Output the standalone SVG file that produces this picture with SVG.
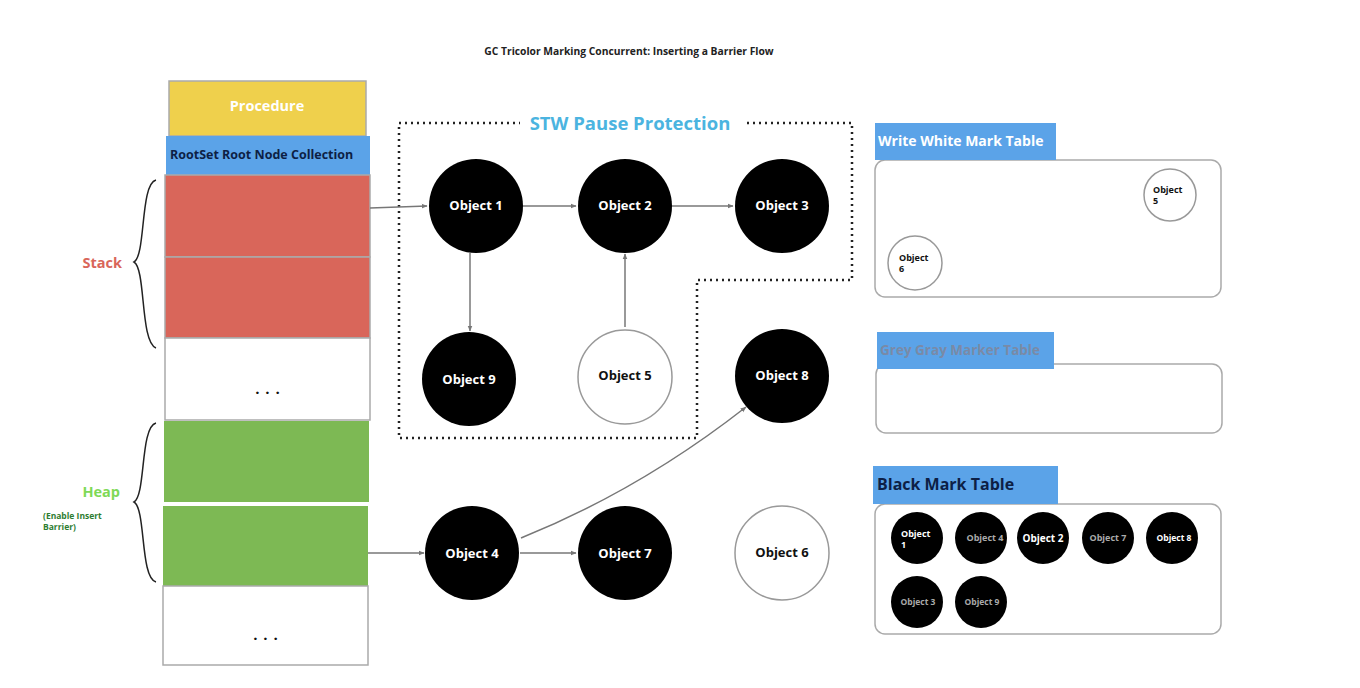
<svg xmlns="http://www.w3.org/2000/svg" width="1360" height="688" viewBox="0 0 1360 688">
<style>
text{font-family:"Open Sans","DejaVu Sans",sans-serif;font-weight:bold}
.blk{fill:#000}
.wht{fill:#fff;stroke:#999;stroke-width:1.5}
.lbl{fill:#fff;font-size:13px;text-anchor:middle}
.dlbl{fill:#111;font-size:13px;text-anchor:middle}
.conn{stroke:#777;stroke-width:1.5;fill:none;marker-end:url(#ah)}
.tbl{fill:#fff;stroke:#aaa;stroke-width:1.5}
.hdr{fill:#5BA3E8}
.sm{font-size:9px}
.cell{stroke:#aaa;stroke-width:1.5}
.brace{fill:none;stroke:#222;stroke-width:1.5}
.dots{font-size:15px;fill:#111;text-anchor:middle;letter-spacing:1px}
</style>
<defs>
<marker id="ah" viewBox="0 0 10 10" refX="9" refY="5" markerWidth="6" markerHeight="6" orient="auto" markerUnits="userSpaceOnUse">
<path d="M0,1 L10,5 L0,9 z" fill="#777"/>
</marker>
</defs>
<rect width="1360" height="688" fill="#fff"/>
<text x="629" y="55" font-size="10.3" fill="#222" text-anchor="middle">GC Tricolor Marking Concurrent: Inserting a Barrier Flow</text>

<g id="memory">
<rect x="169" y="81" width="197" height="55" fill="#EFD04C" class="cell"/>
<text x="267" y="111" font-size="14.5" fill="#fff" text-anchor="middle">Procedure</text>
<rect x="166" y="136" width="204" height="39" fill="#5BA3E8"/>
<text x="170" y="159" font-size="12.5" fill="#0d1f45">RootSet Root Node Collection</text>
<rect x="165" y="175" width="205" height="82" fill="#D9665A" class="cell"/>
<rect x="165" y="257" width="205" height="81" fill="#D9665A" class="cell"/>
<rect x="165" y="338" width="205" height="82" fill="#fff" class="cell"/>
<text class="dots" x="268" y="394">. . .</text>
<rect x="164" y="421" width="205" height="81" fill="#7DB954"/>
<rect x="163" y="506" width="205" height="80" fill="#7DB954"/>
<rect x="163" y="586" width="205" height="79" fill="#fff" class="cell"/>
<text class="dots" x="266" y="640">. . .</text>
</g>

<g id="stack-label">
<path class="brace" d="M156,180 C140,184 146,255 134,262 C146,269 140,342 156,348"/>
<text x="122" y="268" font-size="14.5" fill="#D9665A" text-anchor="end">Stack</text>
</g>
<g id="heap-label">
<path class="brace" d="M156,423 C140,427 146,495 134,502 C146,509 140,578 156,582"/>
<text x="120" y="497" font-size="14.5" fill="#7ED957" text-anchor="end">Heap</text>
<text x="43" y="519" font-size="8.5" fill="#2E7D32">(Enable Insert</text>
<text x="43" y="530" font-size="8.5" fill="#2E7D32">Barrier)</text>
</g>

<g id="stw">
<path d="M399,123 H852 V280 H697 V438 H399 Z" fill="none" stroke="#222" stroke-width="2.5" stroke-dasharray="2 4"/>
<rect x="520" y="110" width="224" height="26" fill="#fff"/>
<text x="630" y="130" font-size="18.5" fill="#4BB4E0" text-anchor="middle">STW Pause Protection</text>
</g>

<g id="connectors">
<line class="conn" x1="370" y1="208" x2="427" y2="206"/>
<line class="conn" x1="523" y1="206" x2="576" y2="206"/>
<line class="conn" x1="672" y1="206" x2="733" y2="206"/>
<line class="conn" x1="470" y1="253" x2="470" y2="331"/>
<line class="conn" x1="625" y1="327" x2="625" y2="254"/>
<line class="conn" x1="368" y1="553" x2="424" y2="553"/>
<line class="conn" x1="520" y1="553" x2="576" y2="553"/>
<path class="conn" d="M521,538 Q640,490 746,407"/>
</g>

<g id="obj1"><circle class="blk" cx="476" cy="206" r="47"/><text class="lbl" x="476" y="210" font-size="11">Object 1</text></g>
<g id="obj2"><circle class="blk" cx="625" cy="206" r="47"/><text class="lbl" x="625" y="210">Object 2</text></g>
<g id="obj3"><circle class="blk" cx="782" cy="206" r="47"/><text class="lbl" x="782" y="210">Object 3</text></g>
<g id="obj9"><circle class="blk" cx="469" cy="379" r="47"/><text class="lbl" x="469" y="384">Object 9</text></g>
<g id="obj5"><circle class="wht" cx="625" cy="377" r="47"/><text class="dlbl" x="625" y="380">Object 5</text></g>
<g id="obj8"><circle class="blk" cx="782" cy="376" r="47"/><text class="lbl" x="782" y="380">Object 8</text></g>
<g id="obj4"><circle class="blk" cx="472" cy="553" r="47"/><text class="lbl" x="472" y="558">Object 4</text></g>
<g id="obj7"><circle class="blk" cx="625" cy="553" r="47"/><text class="lbl" x="625" y="558">Object 7</text></g>
<g id="obj6"><circle class="wht" cx="782" cy="553" r="47"/><text class="dlbl" x="782" y="557">Object 6</text></g>

<g id="white-table">
<rect class="tbl" x="875" y="160" width="346" height="137" rx="10"/>
<rect class="hdr" x="875" y="123" width="181" height="37"/>
<text x="878" y="146" font-size="14" fill="#fff">Write White Mark Table</text>
<circle class="wht" cx="1170" cy="195" r="26"/>
<text class="sm" x="1153" y="193" fill="#111">Object</text><text class="sm" x="1153" y="204" fill="#111">5</text>
<circle class="wht" cx="915" cy="263" r="27"/>
<text class="sm" x="899" y="261" fill="#111">Object</text><text class="sm" x="899" y="272" fill="#111">6</text>
</g>

<g id="grey-table">
<rect class="tbl" x="876" y="364" width="346" height="69" rx="10"/>
<rect class="hdr" x="877" y="332" width="177" height="37"/>
<text x="880" y="355" font-size="13.5" fill="#7a8aa6">Grey Gray Marker Table</text>
</g>

<g id="black-table">
<rect class="tbl" x="875" y="504" width="346" height="130" rx="10"/>
<rect class="hdr" x="873" y="466" width="185" height="38"/>
<text x="877" y="490" font-size="16" fill="#0d1f45">Black Mark Table</text>
<circle class="blk" cx="917" cy="538" r="26"/>
<text class="sm" x="901" y="537" fill="#fff">Object</text><text class="sm" x="901" y="548" fill="#fff">1</text>
<circle class="blk" cx="981" cy="538" r="26"/>
<text x="985" y="541" font-size="9" fill="#aaa" font-weight="normal" text-anchor="middle">Object 4</text>
<circle class="blk" cx="1043" cy="538" r="26"/>
<text x="1043" y="542" font-size="10" fill="#fff" text-anchor="middle">Object 2</text>
<circle class="blk" cx="1108" cy="538" r="26"/>
<text x="1108" y="541" font-size="9" fill="#aaa" font-weight="normal" text-anchor="middle">Object 7</text>
<circle class="blk" cx="1172" cy="538" r="26"/>
<text x="1174" y="541" font-size="8.5" fill="#fff" text-anchor="middle">Object 8</text>
<circle class="blk" cx="917" cy="602" r="26"/>
<text x="918" y="605" font-size="8.5" fill="#aaa" font-weight="normal" text-anchor="middle">Object 3</text>
<circle class="blk" cx="981" cy="602" r="26"/>
<text x="982" y="605" font-size="8.5" fill="#aaa" font-weight="normal" text-anchor="middle">Object 9</text>
</g>
</svg>
